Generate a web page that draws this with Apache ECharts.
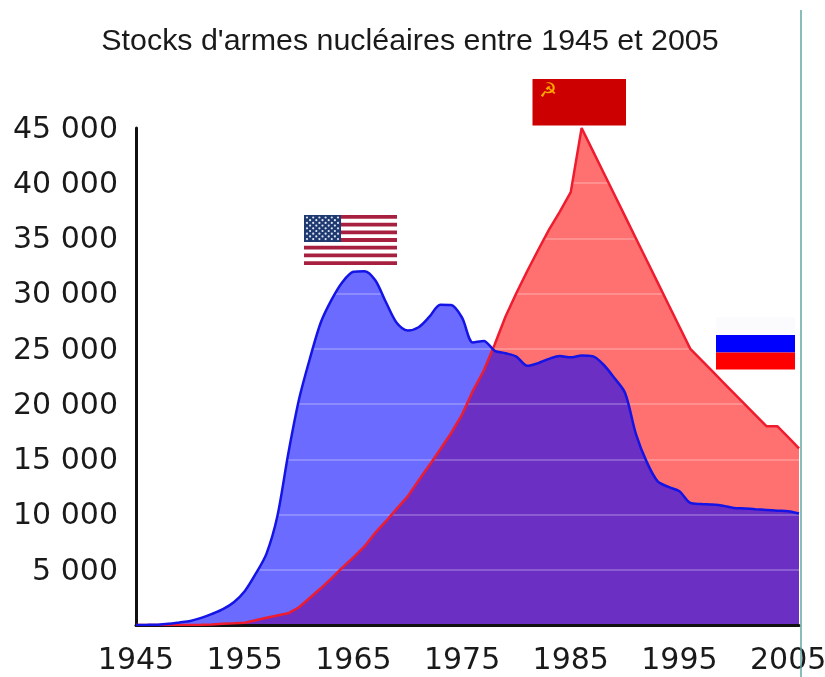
<!DOCTYPE html>
<html>
<head>
<meta charset="utf-8">
<style>
    html, body { margin: 0; padding: 0; background: #fff; }
    #chart { width: 825px; height: 677px; }
</style>
<script src="https://cdn.jsdelivr.net/npm/echarts@6/dist/echarts.min.js"></script>
</head>
<body>
<div id="chart"></div>
<script>
const titleText = "Stocks d'armes nucléaires entre 1945 et 2005"
const years = [
    1945, 1946, 1947, 1948, 1949, 1950, 1951, 1952, 1953, 1954,
    1955, 1956, 1957, 1958, 1959, 1960, 1961, 1962, 1963, 1964,
    1965, 1966, 1967, 1968, 1969, 1970, 1971, 1972, 1973, 1974,
    1975, 1976, 1977, 1978, 1979, 1980, 1981, 1982, 1983, 1984,
    1985, 1986, 1987, 1988, 1989, 1990, 1991, 1992, 1993, 1994,
    1995, 1996, 1997, 1998, 1999, 2000, 2001, 2002, 2003, 2004,
    2005, 2006
]
const usa = [
    6, 11, 32, 110, 235, 369, 640, 1005, 1436, 2063,
    3057, 4618, 6444, 9822, 15468, 20434, 24126, 27387, 29459, 31056,
    31982, 32040, 31233, 29224, 27342, 26662, 26956, 27912, 28999, 28965,
    27826, 25579, 25722, 24826, 24605, 24304, 23464, 23708, 24099, 24357,
    24237, 24401, 24344, 23586, 22380, 21004, 17287, 14747, 13000, 12500,
    12100, 11050, 10950, 10900, 10800, 10600, 10550, 10480, 10420, 10350,
    10300, 10100
]
const ussr = [
    0, 0, 0, 0, 1, 5, 25, 50, 120, 150,
    200, 426, 660, 869, 1060, 1605, 2471, 3322, 4238, 5221,
    6129, 7089, 8339, 9399, 10538, 11643, 13092, 14478, 15915, 17385,
    19055, 21205, 23044, 25393, 27935, 30062, 32049, 33952, 35804, 37431,
    39197, 45000, 43000, 41000, 39000, 37000, 35000, 33000, 31000, 29000,
    27000, 25000, 24000, 23000, 22000, 21000, 20000, 19000, 18000, 18000,
    17000, 16000
]
const xTickLabels = ['1945', '1955', '1965', '1975', '1985', '1995', '2005']
const yTickLabels = ['5 000', '10 000', '15 000', '20 000', '25 000', '30 000', '35 000', '40 000', '45 000']

const usaPoints = years.map((y, i) => [y, usa[i]])
const ussrPoints = years.map((y, i) => [y, ussr[i]])

function rect(x, y, width, height, fill) {
    return { type: 'rect', z: 20, shape: { x, y, width, height }, style: { fill } }
}

// drapeau americain : 13 bandes, canton et etoiles
function usFlag() {
    const left = 304, top = 215, w = 93, h = 50
    const stripe = h / 13
    const items = [rect(left, top, w, h, '#fff')]
    for (let i = 0; i < 13; i += 2) {
        items.push(rect(left, top + i * stripe, w, stripe, '#a8203f'))
    }
    items.push(rect(left, top, 37, stripe * 7, '#1f3a70'))
    for (let r = 0; r < 9; r++) {
        const count = r % 2 ? 5 : 6
        for (let c = 0; c < count; c++) {
            items.push({
                type: 'circle',
                z: 21,
                shape: { cx: left + 3 + c * 6.2 + (r % 2 ? 3.1 : 0), cy: top + 2.5 + r * 2.7, r: 1.1 },
                style: { fill: '#dfe6f2' }
            })
        }
    }
    return items
}

function ussrFlag() {
    return [
        rect(532.5, 79, 93.5, 46.5, '#cc0000'),
        {
            type: 'text',
            z: 21,
            x: 548,
            y: 92,
            style: { text: '☭', font: '20px "DejaVu Sans"', fill: '#ffa500', align: 'center', verticalAlign: 'middle' }
        }
    ]
}

function russiaFlag() {
    return [
        rect(716, 317, 79, 18, '#fbfbfd'),
        rect(716, 335, 79, 17.5, '#0000ff'),
        rect(716, 352.5, 79, 17, '#ff0000')
    ]
}

const chart = echarts.init(document.getElementById('chart'))
chart.setOption({
    animation: false,
    backgroundColor: '#fff',
    title: {
        text: titleText,
        left: 405,
        top: 22,
        textAlign: 'center',
        textStyle: {
            fontFamily: 'Liberation Sans',
            fontSize: 30.4,
            fontWeight: 'normal',
            color: '#1a1a1a'
        }
    },
    grid: { left: 136, right: 26, top: 128, bottom: 52, outerBoundsMode: 'none' },
    xAxis: {
        type: 'value',
        min: 1945,
        max: 2006,
        interval: 5,
        z: 6,
        splitLine: { show: false },
        axisTick: { show: false },
        axisLine: { onZero: false, lineStyle: { color: '#111', width: 3 } },
        axisLabel: {
            margin: 21,
            showMaxLabel: false,
            fontFamily: 'DejaVu Sans',
            fontSize: 30,
            color: '#1a1a1a',
            formatter: v => xTickLabels.includes(String(v)) ? String(v) : ''
        }
    },
    yAxis: {
        type: 'value',
        min: 0,
        max: 45000,
        interval: 5000,
        z: 5,
        axisLine: { show: true, lineStyle: { color: '#111', width: 3 } },
        axisTick: { show: false },
        splitLine: { show: true, lineStyle: { color: 'rgba(255,255,255,0.3)', width: 1.5 } },
        axisLabel: {
            margin: 18,
            formatter: v => v === 0 ? '' : '{n|' + yTickLabels[v / 5000 - 1] + '}',
            rich: {
                n: {
                    fontFamily: 'DejaVu Sans',
                    fontSize: 30,
                    color: '#1a1a1a',
                    padding: [4, 0, 0, 0]
                }
            }
        }
    },
    series: [
        {
            name: 'URSS/Russie zone',
            type: 'line',
            z: 2,
            data: ussrPoints,
            showSymbol: false,
            lineStyle: { width: 0 },
            areaStyle: { color: '#ff0000', opacity: 0.56 }
        },
        {
            name: 'USA zone',
            type: 'line',
            z: 3,
            data: usaPoints,
            smooth: 0.3,
            showSymbol: false,
            lineStyle: { width: 0 },
            areaStyle: { color: '#0000ff', opacity: 0.58 }
        },
        {
            name: 'URSS/Russie',
            type: 'line',
            z: 7,
            data: ussrPoints,
            showSymbol: false,
            lineStyle: { color: '#ee1c2e', width: 2.5 }
        },
        {
            name: 'USA',
            type: 'line',
            z: 8,
            data: usaPoints,
            smooth: 0.3,
            showSymbol: false,
            lineStyle: { color: '#1414e6', width: 2.5 }
        }
    ],
    graphic: [
        ...usFlag(),
        ...ussrFlag(),
        ...russiaFlag(),
        {
            type: 'line',
            z: 30,
            shape: { x1: 801, y1: 10, x2: 801, y2: 677 },
            style: { stroke: '#5fa89f', lineWidth: 1.5 }
        }
    ]
})
</script>
</body>
</html>
